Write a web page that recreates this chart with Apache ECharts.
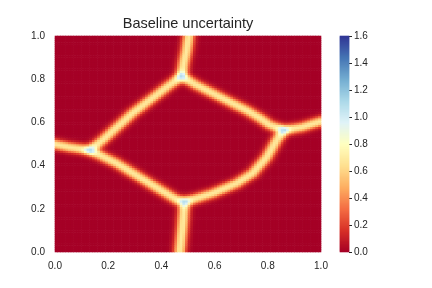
<!DOCTYPE html>
<html><head><meta charset="utf-8">
<script src="https://cdn.jsdelivr.net/npm/echarts@6/dist/echarts.min.js"></script>
<style>html,body{margin:0;padding:0;background:#fff}#c{width:432px;height:288px}</style>
</head><body><div id="c"></div>
<script>
// ---- data ----
const titleText = 'Baseline uncertainty';
const axisTickValues = [0.0, 0.2, 0.4, 0.6, 0.8, 1.0];
const colorbarTickValues = [0.0, 0.2, 0.4, 0.6, 0.8, 1.0, 1.2, 1.4, 1.6];
const gridCells = 100; // heatmap resolution per axis
const colorbarSteps = 216;

// decision-boundary ridges (x, y in data units)
const ridgeTop      = [[0.477,0.815],[0.485,0.875],[0.496,0.935],[0.504,1.000],[0.506,1.030]];
const ridgeJ1J3    = [[0.477,0.815],[0.530,0.776],[0.594,0.736],[0.658,0.696],[0.722,0.657],[0.770,0.622],[0.808,0.590],[0.861,0.565]];
const ridgeRight   = [[0.861,0.565],[0.929,0.579],[1.000,0.606],[1.030,0.617]];
const ridgeJ3J4    = [[0.861,0.565],[0.835,0.519],[0.797,0.440],[0.744,0.366],[0.684,0.319],[0.594,0.273],[0.534,0.250],[0.488,0.233]];
const ridgeBottom  = [[0.488,0.233],[0.481,0.125],[0.470,0.000],[0.468,-0.030]];
const ridgeJ4J2    = [[0.488,0.233],[0.459,0.243],[0.357,0.319],[0.233,0.412],[0.132,0.472]];
const ridgeLeft    = [[0.132,0.472],[0.056,0.486],[0.000,0.500],[-0.030,0.505]];
const ridgeJ2J1    = [[0.132,0.472],[0.180,0.519],[0.293,0.644],[0.357,0.704],[0.421,0.764],[0.477,0.815]];
const ridges = [ridgeTop, ridgeJ1J3, ridgeRight, ridgeJ3J4, ridgeBottom, ridgeJ4J2, ridgeLeft, ridgeJ2J1];

// uncertainty across a ridge: [distance from ridge, value]
const ridgeProfile = [[0,0.69],[0.006,0.65],[0.012,0.55],[0.018,0.38],[0.024,0.22],[0.030,0.11],[0.036,0.05],[0.045,0.01],[0.055,0]];
const secondRidgeWeight = 0.6; // junctions read ~1.1

const rdylbu = ['#a50026','#d73027','#f46d43','#fdae61','#fee090','#ffffbf','#e0f3f8','#abd9e9','#74add1','#4575b4','#313695'];

// ---- build heatmap cells from the traced ridges ----
function segDist(px, py, a, b) {
  const dx = b[0]-a[0], dy = b[1]-a[1];
  const L = dx*dx + dy*dy;
  let t = L ? ((px-a[0])*dx + (py-a[1])*dy) / L : 0;
  t = Math.max(0, Math.min(1, t));
  const qx = a[0]+t*dx - px, qy = a[1]+t*dy - py;
  return Math.sqrt(qx*qx + qy*qy);
}
function lineDist(px, py, line) {
  let d = Infinity;
  for (let k = 0; k < line.length-1; k++) d = Math.min(d, segDist(px, py, line[k], line[k+1]));
  return d;
}
function profileAt(d) {
  for (let k = 0; k < ridgeProfile.length-1; k++) {
    const [d0,v0] = ridgeProfile[k], [d1,v1] = ridgeProfile[k+1];
    if (d <= d1) return v0 + (v1-v0)*(d-d0)/(d1-d0);
  }
  return 0;
}
const cats = [];
for (let i = 0; i < gridCells; i++) cats.push(i);
const cells = [];
for (let i = 0; i < gridCells; i++) {
  for (let j = 0; j < gridCells; j++) {
    const x = (i+0.5)/gridCells, y = (j+0.5)/gridCells;
    const vals = ridges.map(r => profileAt(lineDist(x, y, r))).sort((a,b)=>b-a);
    cells.push([i, j, +(vals[0] + secondRidgeWeight*vals[1]).toFixed(3)]);
  }
}
// colour bar strip
const cbMax = colorbarTickValues[colorbarTickValues.length-1];
const cbCats = [], cbCells = [];
for (let k = 0; k < colorbarSteps; k++) { cbCats.push(k); cbCells.push([0, k, (k+0.5)/colorbarSteps*cbMax]); }

function cellRender(params, api) {
  const c = api.coord([api.value(0), api.value(1)]);
  const s = api.size([1, 1]);
  return {type:'rect', shape:{x: c[0]-s[0]/2-0.3, y: c[1]-s[1]/2-0.3, width: s[0]+0.6, height: s[1]+0.6},
          style:{fill: api.visual('color')}, silent:true};
}

const txt = '#262626';
const font = 'Liberation Sans, Arial, sans-serif';
const chart = echarts.init(document.getElementById('c'), null, {renderer:'canvas'});
chart.setOption({
  animation: false,
  backgroundColor: '#fff',
  graphic: [{type:'text', x: 188, y: 23.5, style:{text: titleText, fill: txt, font: '14.5px ' + font, textAlign:'center', textVerticalAlign:'middle'}}],
  grid: [
    {left: 55, top: 36, width: 266, height: 216},
    {left: 340, top: 36, width: 9, height: 216}
  ],
  xAxis: [
    {type:'category', gridIndex:0, data: cats, show:false},
    {type:'value', gridIndex:0, position:'bottom', min: axisTickValues[0], max: axisTickValues[axisTickValues.length-1],
     interval: axisTickValues[1]-axisTickValues[0],
     axisLine:{show:false}, axisTick:{show:false}, splitLine:{show:false},
     axisLabel:{color: txt, fontSize:10, fontFamily: font, margin:9, formatter: v => v.toFixed(1)}},
    {type:'category', gridIndex:1, data:[0], show:false}
  ],
  yAxis: [
    {type:'category', gridIndex:0, data: cats, show:false},
    {type:'value', gridIndex:0, position:'left', min: axisTickValues[0], max: axisTickValues[axisTickValues.length-1],
     interval: axisTickValues[1]-axisTickValues[0],
     axisLine:{show:false}, axisTick:{show:false}, splitLine:{show:false},
     axisLabel:{color: txt, fontSize:10, fontFamily: font, margin:10, formatter: v => v.toFixed(1)}},
    {type:'category', gridIndex:1, data: cbCats, show:false},
    {type:'value', gridIndex:1, position:'right', min: colorbarTickValues[0], max: cbMax,
     interval: colorbarTickValues[1]-colorbarTickValues[0],
     axisLine:{show:false}, axisTick:{show:true, length:3, lineStyle:{color: txt, width:1}}, splitLine:{show:false},
     axisLabel:{color: txt, fontSize:10, fontFamily: font, margin:5, formatter: v => v.toFixed(1)}}
  ],
  visualMap: {
    type:'continuous', seriesIndex:[0,1], dimension:2,
    min: colorbarTickValues[0], max: cbMax, show:false,
    inRange:{color: rdylbu}
  },
  series: [
    {type:'custom', xAxisIndex:0, yAxisIndex:0, data: cells, renderItem: cellRender, silent:true, progressive:0},
    {type:'custom', xAxisIndex:2, yAxisIndex:2, data: cbCells, renderItem: cellRender, silent:true, progressive:0},
    {type:'scatter', xAxisIndex:2, yAxisIndex:3, data: [], silent:true}
  ]
});
</script></body></html>
